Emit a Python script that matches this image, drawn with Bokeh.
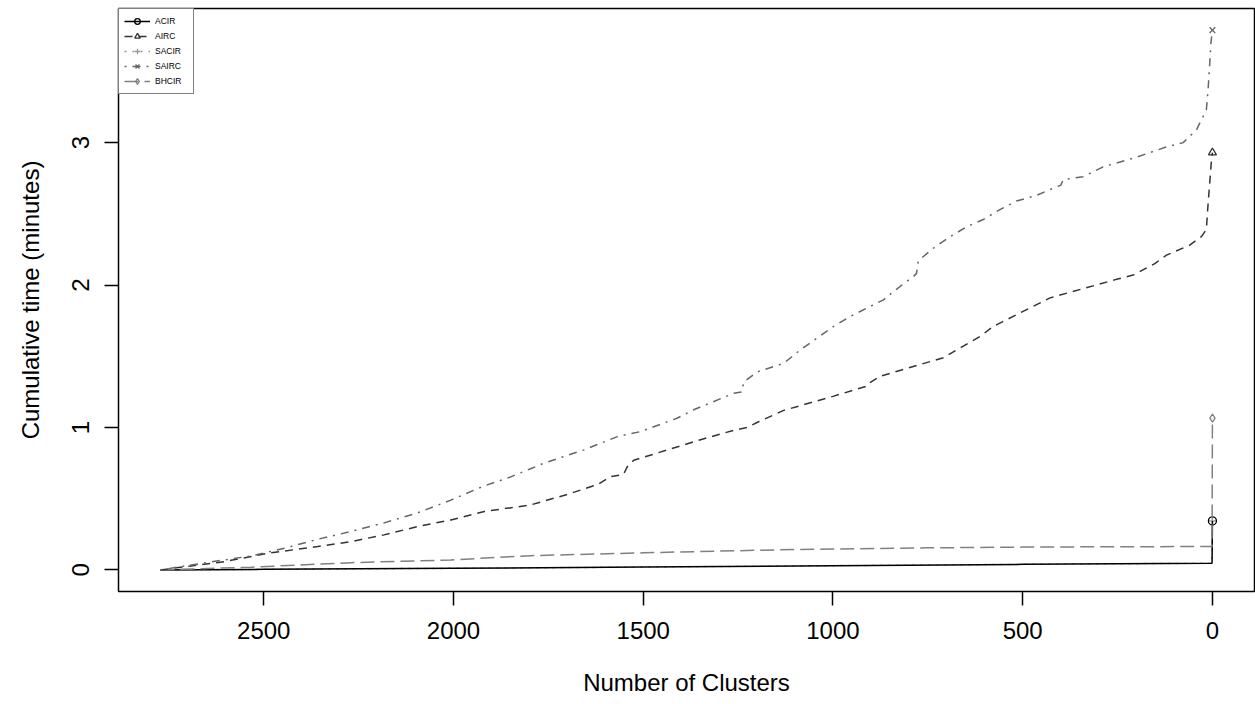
from bokeh.plotting import figure
from bokeh.models import Range1d, Legend, LegendItem, FixedTicker
from bokeh.embed import file_html
from bokeh.resources import INLINE

# ---- data ----
x_ticks = [0, 500, 1000, 1500, 2000, 2500]
y_ticks = [0, 1, 2, 3]

acir_x = [2772, 2500, 2000, 1500, 1000, 500, 1, 0]
acir_y = [0.0, 0.004, 0.011, 0.020, 0.030, 0.039, 0.047, 0.344]

sacir_x = [2772, 2500, 2000, 1500, 1000, 500, 1, 0]
sacir_y = [0.0, 0.004, 0.011, 0.020, 0.030, 0.039, 0.047, 0.344]

airc_x = [2772, 2691, 2604, 2489, 2358, 2270, 2183, 2095, 2007, 1919, 1797, 1700,
          1620, 1586, 1552, 1542, 1525, 1349, 1262, 1226, 1196, 1130, 998, 911, 906,
          875, 709, 612, 577, 428, 253, 209, 152, 121, 60, 29, 16, 12, 7, 3, 0]
airc_y = [0.0, 0.028, 0.058, 0.117, 0.164, 0.199, 0.246, 0.304, 0.351, 0.41, 0.456, 0.53,
          0.60, 0.655, 0.67, 0.725, 0.77, 0.914, 0.98, 1.0, 1.04, 1.12, 1.22, 1.29, 1.31,
          1.36, 1.49, 1.64, 1.71, 1.91, 2.04, 2.07, 2.15, 2.21, 2.28, 2.34, 2.39, 2.55, 2.72, 2.86, 2.93]

sairc_x = [2772, 2691, 2604, 2533, 2446, 2358, 2270, 2183, 2095, 2007, 1919, 1858, 1797,
           1762, 1656, 1568, 1507, 1411, 1367, 1262, 1240, 1235, 1200, 1130, 1086, 998,
           954, 867, 823, 788, 780, 775, 735, 691, 647, 604, 560, 516, 463, 411, 400, 393,
           341, 288, 209, 121, 77, 42, 16, 11, 7, 4, 0]
sairc_y = [0.0, 0.035, 0.07, 0.098, 0.152, 0.215, 0.27, 0.33, 0.40, 0.49, 0.59, 0.644, 0.71,
           0.749, 0.843, 0.936, 0.971, 1.065, 1.124, 1.24, 1.25, 1.32, 1.39, 1.45, 1.545, 1.71,
           1.78, 1.896, 1.99, 2.06, 2.08, 2.17, 2.26, 2.34, 2.41, 2.46, 2.53, 2.59, 2.63, 2.69, 2.70, 2.74,
           2.76, 2.83, 2.89, 2.97, 3.0, 3.09, 3.23, 3.39, 3.56, 3.70, 3.79]

bhcir_x = [2772, 2533, 2270, 2007, 1797, 1500, 1200, 1000, 750, 500, 250, 1, 0]
bhcir_y = [0.0, 0.019, 0.051, 0.07, 0.10, 0.12, 0.138, 0.147, 0.155, 0.16, 0.163, 0.164, 1.065]

series = [
    # name, xs, ys, color, dash, marker
    ("ACIR", acir_x, acir_y, "#000000", "solid", "circle"),
    ("AIRC", airc_x, airc_y, "#333333", "8 6", "triangle"),
    ("SACIR", sacir_x, sacir_y, "#999999", "2 6", "cross"),
    ("SAIRC", sairc_x, sairc_y, "#666666", "2 6 8 6", "x"),
    ("BHCIR", bhcir_x, bhcir_y, "#808080", "14 6", "diamond"),
]

FONT = "Liberation Sans"

p = figure(width=1255, height=704, output_backend="svg", toolbar_location=None,
           x_range=Range1d(2882.88, -110.88), y_range=Range1d(-0.1516, 3.9416),
           min_border_left=118, min_border_right=1, min_border_top=8, min_border_bottom=113,
           background_fill_color="white", border_fill_color="white")
p.grid.visible = False
p.outline_line_color = "black"
p.outline_line_width = 1.5

items = []
draw_order = [2, 0, 4, 1, 3]
renderers = {}
for i in draw_order:
    name, xs, ys, col, dash, mk = series[i]
    lr = p.line(xs, ys, line_color=col, line_width=1.5, line_dash=dash)
    sr = p.scatter([xs[-1]], [ys[-1]], marker=mk, size=8, line_color=col,
                   fill_color=None, line_width=1.3)
    renderers[name] = (lr, sr)
for name, xs, ys, col, dash, mk in series:
    items.append(LegendItem(label=name, renderers=list(renderers[name])))

legend = Legend(items=items, location="top_left", margin=0, padding=5, spacing=1,
                glyph_width=26, glyph_height=14, label_standoff=5, label_width=33,
                label_text_font=FONT, label_text_font_size="8.5px",
                label_text_color="black",
                border_line_color="black", border_line_width=1,
                background_fill_color="white", background_fill_alpha=1.0)
p.add_layout(legend, "center")

for ax in (p.xaxis[0], p.yaxis[0]):
    ax.axis_line_color = None
    ax.major_tick_out = 14
    ax.major_tick_in = 0
    ax.minor_tick_line_color = None
    ax.major_tick_line_width = 1.5
    ax.major_tick_line_color = "black"
    ax.major_label_text_font = FONT
    ax.major_label_text_font_size = "24px"
    ax.major_label_text_color = "black"
    ax.axis_label_text_font = FONT
    ax.axis_label_text_font_size = "24px"
    ax.axis_label_text_font_style = "normal"
    ax.axis_label_text_color = "black"

p.xaxis.ticker = FixedTicker(ticks=x_ticks)
p.yaxis.ticker = FixedTicker(ticks=y_ticks)
p.xaxis.axis_label = "Number of Clusters"
p.yaxis.axis_label = "Cumulative time (minutes)"
p.xaxis.major_label_standoff = 16
p.xaxis.axis_label_standoff = 27
p.yaxis.major_label_orientation = "vertical"
p.yaxis.major_label_standoff = 15
p.yaxis.axis_label_standoff = 26

open("out.html", "w").write(file_html(p, INLINE))
